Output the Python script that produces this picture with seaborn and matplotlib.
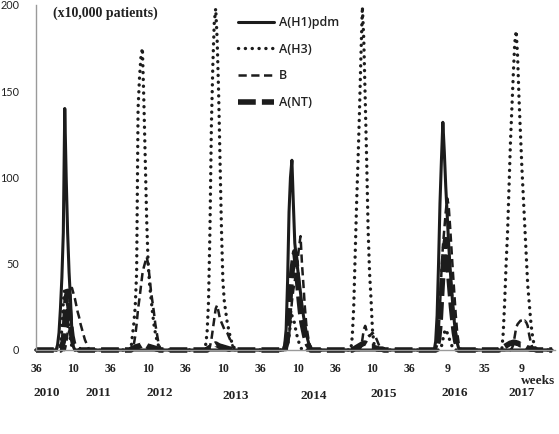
import numpy as np
import pandas as pd
import matplotlib
matplotlib.use("Agg")
import matplotlib.pyplot as plt
import seaborn as sns

# ---------------- data ----------------
n_weeks = 360                                   # weekly index, 2010 wk36 ... 2017/18 season
season_start = [0, 52, 104, 156, 208, 260, 312]  # index of week 36 of each season

# A(H1)pdm : season -> (first week offset from week 36, weekly values, x10,000 patients)
h1_first = {0: 14, 3: 16, 5: 17}
h1_vals = {
    0: [0, 3, 10, 24, 42, 68, 140, 100, 68, 45, 29, 10, 2, 0],
    3: [0, 3, 12, 40, 80, 100, 110, 85, 62, 54, 47, 40, 33, 26, 20, 15, 10, 6, 3, 1, 0],
    5: [0, 5, 20, 50, 85, 110, 132, 115, 95, 78, 62, 48, 36, 25, 16, 9, 4, 1, 0],
}
# A(H3)
h3_first = {0: 16, 1: 14, 2: 13, 3: 18, 4: 11, 5: 21, 6: 12}
h3_vals = {
    0: [0, 3, 12, 28, 36, 35, 25, 12, 5, 2, 0],
    1: [0, 8, 15, 25, 45, 140, 158, 170, 175, 145, 110, 75, 50, 38, 30, 22, 15, 10, 6, 3, 1, 0],
    2: [0, 3, 10, 28, 70, 130, 165, 190, 198, 180, 150, 110, 70, 40, 28, 22, 16, 12, 8, 5, 3, 1, 0],
    3: [0, 3, 8, 15, 20, 18, 15, 10, 7, 4, 2, 0],
    4: [0, 8, 25, 55, 85, 110, 138, 170, 199, 180, 145, 110, 70, 45, 30, 12, 4, 1, 0],
    5: [0, 2, 6, 10, 12, 10, 8, 5, 3, 1, 0],
    6: [0, 10, 28, 50, 68, 95, 120, 140, 160, 178, 185, 170, 145, 125, 105, 88, 72, 55, 38,
        28, 18, 10, 5, 2, 0],
}
# B
b_first = {0: 20, 1: 14, 2: 16, 3: 18, 4: 17, 5: 18, 6: 18}
b_vals = {
    0: [0, 4, 10, 25, 33, 36, 33, 30, 26, 22, 19, 15, 12, 9, 6, 4, 2, 0],
    1: [0, 1, 3, 8, 15, 24, 30, 37, 44, 48, 51, 54, 50, 42, 34, 28, 22, 15, 10, 5, 2, 0],
    2: [0, 2, 6, 12, 18, 24, 26, 22, 18, 16, 14, 12, 11, 10, 8, 6, 4, 2, 0],
    3: [0, 2, 8, 18, 28, 35, 40, 45, 52, 60, 66, 50, 38, 25, 15, 9, 4, 1, 0],
    4: [0, 2, 6, 12, 14, 11, 9, 8, 9, 10, 9, 8, 6, 4, 2, 1, 0],
    5: [0, 3, 10, 25, 45, 60, 70, 80, 88, 84, 72, 58, 45, 32, 20, 10, 4, 1, 0],
    6: [0, 1, 3, 8, 13, 15, 16, 17, 17, 16, 17, 16, 14, 9, 5, 2, 1, 0],
}
# A(NT)
nt_first = {0: 17, 1: 14, 2: 15, 3: 17, 4: 12, 5: 18, 6: 10}
nt_vals = {
    0: [0, 2, 5, 15, 30, 34, 25, 15, 8, 4, 2, 1.5, 1, 0],
    1: [0, 1, 1, 1.5, 2, 2, 2.5, 2.5, 3, 3, 2.5, 2.5, 2, 2, 1.5, 1.5, 1, 1, 0.5, 0.5, 0],
    2: [0, 1, 1.5, 2, 2.5, 3, 3.5, 3, 2.5, 2, 2, 1.5, 1.5, 1, 1, 0.5, 0.5, 0.5, 0],
    3: [0, 3, 8, 20, 35, 45, 52, 57, 50, 40, 30, 22, 16, 12, 8, 5, 3, 2, 0],
    4: [0, 0.5, 1, 1.5, 2, 2.5, 3, 3.5, 4, 4, 3.5, 3, 2.5, 2, 2, 1.5, 1, 1, 0.5, 0.5, 0.5, 0.5, 0],
    5: [0, 2, 6, 15, 30, 45, 58, 64, 55, 45, 35, 25, 17, 10, 5, 2, 0],
    6: [0, 0.5, 1, 1.5, 2, 2.5, 3, 3.5, 4, 4, 4.5, 4.5, 4, 4, 3.5, 3, 3, 2.5, 2, 1.5, 1, 1,
        0.5, 0.5, 0.5, 0.5, 0],
}

tick_weeks = list(range(0, 338 + 1, 26))
tick_labels = ["36", "10", "36", "10", "36", "10", "36", "10", "36", "10", "36", "9", "35", "9"]
year_labels = ["2010", "2011", "2012", "2013", "2014", "2015", "2016", "2017"]
year_x = [7.6, 43.5, 86, 139, 193, 242, 291, 338]
year_dy = [0, 0, 0, 3, 3, 1, 0, 0]
series_names = ["A(H1)pdm", "A(H3)", "B", "A(NT)"]


def build(first, vals):
    y = np.zeros(n_weeks)
    for s, off in first.items():
        v = vals[s]
        i0 = season_start[s] + off
        y[i0:i0 + len(v)] = v
    return y


df = pd.DataFrame({
    "week": np.arange(n_weeks),
    "A(H1)pdm": build(h1_first, h1_vals),
    "A(H3)": build(h3_first, h3_vals),
    "B": build(b_first, b_vals),
    "A(NT)": build(nt_first, nt_vals),
})
long = df.melt(id_vars="week", var_name="type", value_name="patients")

# ---------------- style ----------------
sns.set_style("white")
plt.rcParams["font.family"] = ["DejaVu Sans"]

W, H = 559, 434
fig = plt.figure(figsize=(W / 100, H / 100), dpi=100)
ax_l, ax_r, ax_t, ax_b = 36, 555, 5, 350
ax = fig.add_axes([ax_l / W, (H - ax_b) / H, (ax_r - ax_l) / W, (ax_b - ax_t) / H])

ink = "#1c1c1c"
styles = {
    "A(NT)": dict(lw=4.0, linestyle=(0, (3.2, 1.1)), dash_capstyle="butt"),
    "B": dict(lw=1.8, linestyle=(0, (3.3, 1.8)), dash_capstyle="butt"),
    "A(H3)": dict(lw=2.4, linestyle=(0, (0.05, 2.0)), dash_capstyle="round"),
    "A(H1)pdm": dict(lw=2.2, linestyle="-"),
}
handles = {}
for name in ["A(NT)", "B", "A(H3)", "A(H1)pdm"]:
    sub = long[long["type"] == name]
    n_before = len(ax.lines)
    sns.lineplot(data=sub, x="week", y="patients", ax=ax, color=ink, legend=False,
                 clip_on=False, **styles[name])
    handles[name] = ax.lines[n_before]

ax.set_xlim(0, 361)
ax.set_ylim(0, 200)
ax.set_xlabel("")
ax.set_ylabel("")

for s in ["top", "right"]:
    ax.spines[s].set_visible(False)
ax.spines["left"].set_color("#9a9a9a")
ax.spines["left"].set_linewidth(1.0)
ax.spines["bottom"].set_color("#9a9a9a")
ax.spines["bottom"].set_linewidth(1.0)

ax.set_yticks([0, 50, 100, 150, 200])
ax.set_yticklabels(["0", "50", "100", "150", "200"], family="Lato", fontsize=7.8, color="#222222")
ax.tick_params(axis="y", direction="out", length=3, width=1, color="#9a9a9a", pad=9)

ax.set_xticks(tick_weeks)
ax.set_xticklabels(tick_labels, family="Liberation Serif", fontweight="bold", fontsize=8.5,
                   color="#222222")
ax.tick_params(axis="x", direction="out", length=3.5, width=1, color="#9a9a9a", pad=6)

tr = ax.get_xaxis_transform()
for lab, x, dy in zip(year_labels, year_x, year_dy):
    ax.text(x, -(393 - ax_b + dy) / (ax_b - ax_t), lab, transform=tr, ha="center", va="center",
            family="Liberation Serif", fontweight="bold", fontsize=9.5, color="#222222")
ax.text(349.5, -(380.5 - ax_b) / (ax_b - ax_t), "weeks", transform=tr, ha="center", va="center",
        family="Liberation Serif", fontweight="bold", fontsize=9.5, color="#222222")

ax.text((53 - ax_l) / (ax_r - ax_l), 1 - (13 - ax_t) / (ax_b - ax_t), "(x10,000 patients)",
        transform=ax.transAxes, ha="left", va="center", family="Liberation Serif",
        fontweight="bold", fontsize=10, color="#222222")

leg = ax.legend([handles[n] for n in series_names], series_names, loc="upper left",
                bbox_to_anchor=((238 - ax_l) / (ax_r - ax_l), 1 - (16 - ax_t) / (ax_b - ax_t)),
                frameon=False, borderpad=0, borderaxespad=0, handlelength=2.9,
                handletextpad=0.4, labelspacing=1.1,
                prop={"family": "Open Sans", "size": 9, "weight": "semibold"})
for t in leg.get_texts():
    t.set_color("#222222")

fig.savefig("out.png", dpi=100)
